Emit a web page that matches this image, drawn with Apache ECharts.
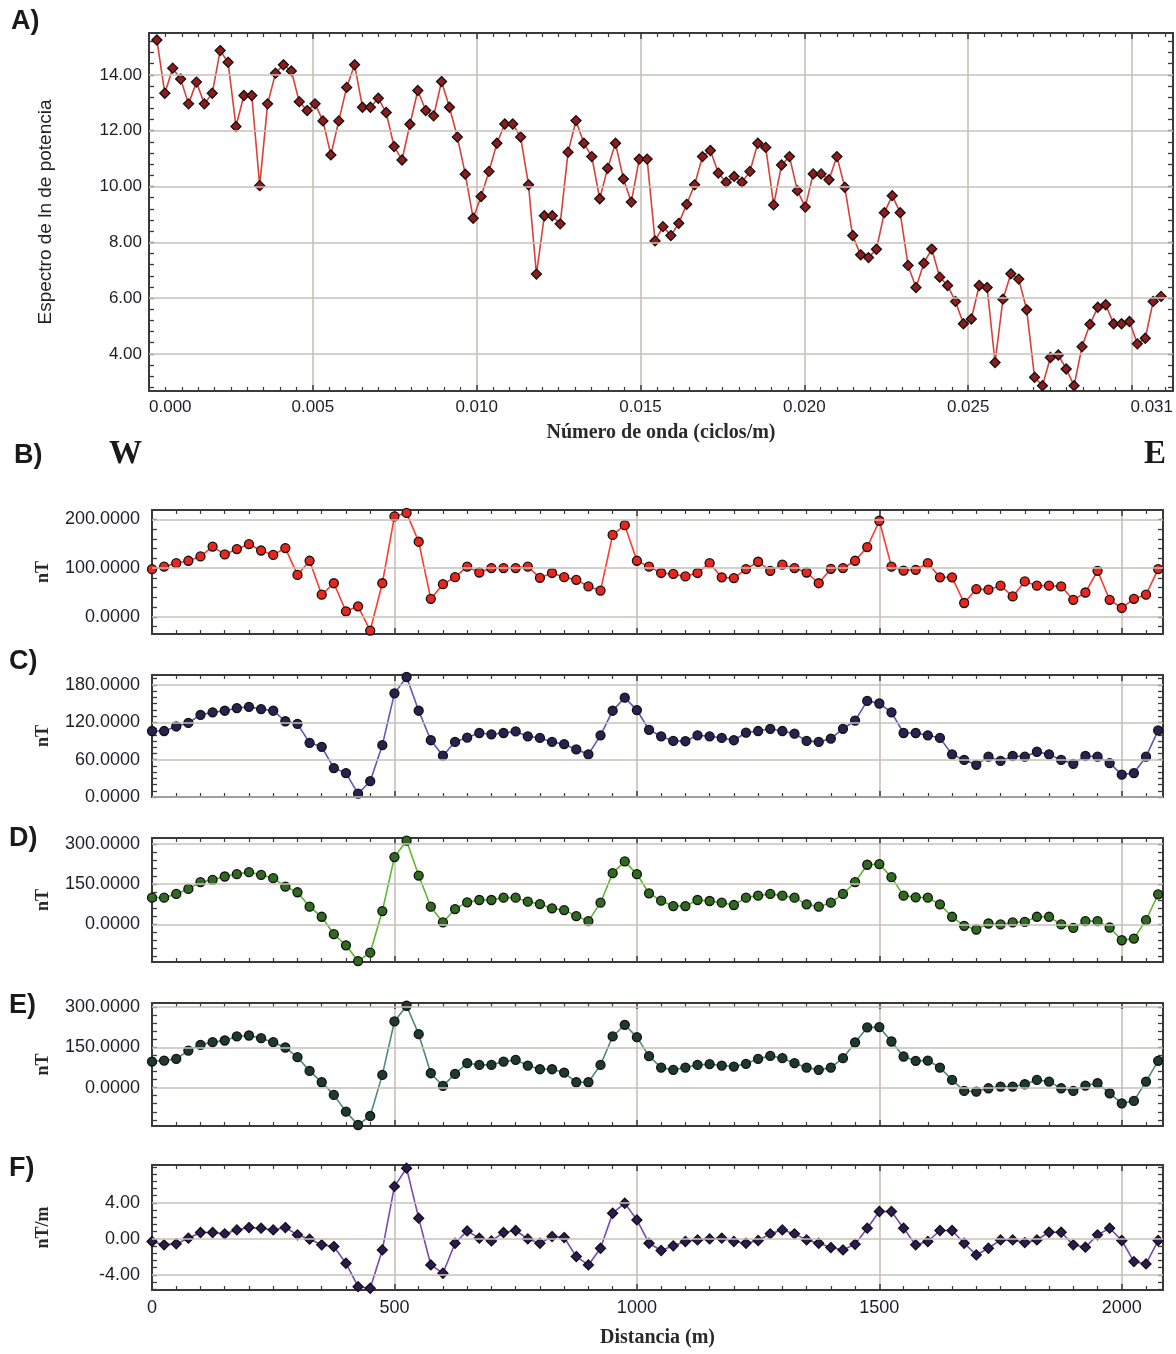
<!DOCTYPE html>
<html><head><meta charset="utf-8">
<script src="https://cdn.jsdelivr.net/npm/echarts@6/dist/echarts.min.js"></script>
<style>html,body{margin:0;padding:0;background:#fff}#c{width:1176px;height:1354px}</style>
</head><body><div id="c"></div>
<script>
// ---------- DATA ----------
// Panel A: power spectrum (ln), sample spacing in wavenumber (cycles/m)
const specStep = 0.0002413;
const spectrum = [
 15.25,13.34,14.24,13.85,12.96,13.74,12.96,13.34,14.87,14.45,
 12.15,13.26,13.26,10.03,12.96,14.06,14.36,14.14,13.04,12.72,
 12.96,12.35,11.13,12.35,13.55,14.36,12.84,12.84,13.16,12.65,
 11.43,10.95,12.23,13.44,12.72,12.53,13.76,12.84,11.77,10.44,
 8.86,9.64,
 10.54,11.55,12.24,12.24,11.77,10.06,6.86,8.95,8.95,8.66,
 11.23,12.36,11.55,11.07,9.56,10.65,11.55,10.27,9.44,10.98,
 10.98,8.05,8.56,8.24,8.68,9.36,10.06,11.07,11.29,10.48,
 10.15,10.36,10.15,10.54,11.55,11.40,9.34,10.77,11.07,9.85,
 9.26,10.45,
 10.45,10.24,11.07,9.97,8.24,7.55,7.45,7.75,9.06,9.67,
 9.06,7.17,6.38,7.25,7.76,6.75,6.45,5.88,5.08,5.25,
 6.45,6.38,3.69,5.96,6.87,6.68,5.58,3.16,2.86,3.87,
 3.96,3.46,2.86,4.26,5.06,5.67,5.76,5.08,5.08,5.16,
 4.36,4.56,5.88,6.06
];
const specYTicks = [4, 6, 8, 10, 12, 14];
const specXLabels = [0, 0.005, 0.010, 0.015, 0.020, 0.025, 0.03125];

// Panels B-F: profile W-E, station spacing (m)
const stationStep = 25;
const fieldB = [97.8,103,110,115,124,144,128,139,149,136,127,141,86,115,45.5,69,11.5,21.7,-28,69,
 206,213,154,37,67,81.5,103,91,100,100,100,103,80,90,81.5,76,62.5,54,168,188,
 115,103,90,88,83,90,110,81,79.5,98,113,94.5,107,100,91,69,98.6,100,115,143,
 197,103,95,96.5,110,81,81,28.5,57,55.7,64,42,72.7,64,64,62.5,35,50,94.5,35,
 18.3,37,45.5,98];
const fieldC = [106,106,113.3,119,132,136,138.6,142.8,144.9,141.2,138.6,121.7,117.5,87,80.6,46.4,38.5,5.3,25.4,83.3,
 166.5,192.8,138.6,91.2,66.4,88.5,95.4,102.8,100.7,102.8,105.4,97.5,94.9,88.5,84.9,76.4,68.5,99.1,138.6,159.6,
 139.6,108,97.5,90.1,89.6,99.1,97.5,94.9,91.2,103.3,106,109.6,106,101.7,90.1,88.5,93.8,109.6,122.8,154.4,
 150.2,136,102.8,102.8,99.1,94.9,68.5,59.6,51.7,64.8,58,65.9,64.8,72.7,68.5,59.6,53.3,65.9,64.8,54.3,
 35.9,38.5,64.8,107];
const fieldD = [99.8,99.8,113.5,132.3,157.3,166,178.5,187.3,194.8,184.8,172.3,141,119.8,66,28.5,-36.5,-77.7,-136.5,-105.2,49.8,
 251,312,182,66,7.3,57.3,82.3,91,91,99.8,99.8,84.8,76,59.8,53.5,31,12.3,81,191,234.8,
 187.3,116,88.5,68.5,68.5,91,87.3,81,72.3,99.8,107.3,113.5,107.3,99.8,74.8,66,81,113.5,157.3,222.3,
 224.8,176,107.3,101,99.8,74.8,28.5,-5.2,-19,3.5,0,7.3,9.8,28.5,28.5,0,-12.7,12.3,12.3,-11.5,
 -59,-52.7,16,112.3];
const fieldE = [97,100.8,107,138,159.3,169.2,175.4,190.4,194,184.1,169.2,149.3,113.2,62.2,19.9,-27.3,-89.5,-139.3,-105.7,47.3,
 246.3,304.8,199,53.5,6.2,51,90.8,84.6,84.6,97,103.3,82.1,68.4,68.4,56,19.9,19.9,84.6,190.4,233.9,
 187.9,117,74.7,66,74.7,84.6,87.1,82.1,78.4,88.4,107,118.2,109.5,90.8,74.7,66,74.7,109.5,168,224,
 225.2,171.7,115.7,99.5,100.8,74.7,28.6,-12.4,-14.9,-2.5,3.8,3.8,12.5,28.6,22.4,-2.5,-12.4,7.5,16.2,-21.1,
 -58.4,-49.7,22.4,99.5];
const gradF = [-0.29,-0.66,-0.55,0.08,0.71,0.71,0.56,1.0,1.26,1.19,1.0,1.26,0.45,-0.03,-0.66,-0.85,-2.7,-5.3,-5.48,-1.22,
 5.82,7.85,2.3,-2.89,-3.81,-0.48,0.89,0.08,-0.22,0.71,0.93,0.0,-0.48,0.26,0.15,-1.96,-2.89,-1.04,2.85,3.96,
 2.11,-0.48,-1.29,-0.77,-0.29,-0.11,0.0,0.08,-0.29,-0.48,-0.18,0.56,1.0,0.56,-0.11,-0.48,-0.96,-1.22,-0.59,1.19,
 3.04,3.04,1.19,-0.66,-0.29,0.93,0.93,-0.48,-1.78,-1.04,-0.11,-0.11,-0.41,-0.11,0.74,0.74,-0.66,-0.92,0.45,1.19,
 -0.18,-2.52,-2.78,-0.18];
const ticksB = [0, 100, 200];
const ticksC = [0, 60, 120, 180];
const ticksD = [0, 150, 300];
const ticksE = [0, 150, 300];
const ticksF = [-4, 0, 4];
const distLabels = [0, 500, 1000, 1500, 2000];

// ---------- STYLE / LAYOUT ----------
const GRID_COLOR = '#c9c0b8';
const BOX_COLOR = '#3a3a3a';
const LABEL_COLOR = '#1d1d2b';
const SERIF = '"Liberation Serif","Times New Roman",serif';
const SANS = '"Liberation Sans",Arial,sans-serif';

function within(min, max, step) {
  const out = [];
  for (let v = Math.ceil(min / step - 1e-9) * step; v <= max + 1e-9; v += step) out.push(+v.toFixed(6));
  return out;
}

const panels = [
  {key:'A', data: spectrum.map((v,i)=>[(i+1)*specStep, v]), left:149, top:33, width:1025, height:358,
   ymin:2.67, ymax:15.5, yt:specYTicks, ystep:0.4, yfmt:v=>v.toFixed(2),
   xmin:0, xmax:0.03125, xint:0.005, xlabels:specXLabels, xfmt:v=>v.toFixed(3), xname:'Número de onda (ciclos/m)',
   yname:'Espectro de ln de potencia', ynameFont:{fontFamily:SANS,fontSize:19,fontWeight:'normal',color:'#222'}, ynameGap:94,
   line:'#d9403a', fill:'#8e1c1c', symbol:'diamond', size:10},
  {key:'B', data: fieldB.map((v,i)=>[i*stationStep, v]), left:152, top:510, width:1011, height:124,
   ymin:-35, ymax:219, yt:ticksB, ystep:20, yfmt:v=>v.toFixed(4),
   line:'#ff3a2e', fill:'#e8261e', symbol:'circle', size:9, yname:'nT'},
  {key:'C', data: fieldC.map((v,i)=>[i*stationStep, v]), left:152, top:675, width:1011, height:122,
   ymin:0, ymax:196, yt:ticksC, ystep:10, yfmt:v=>v.toFixed(4),
   line:'#5a58b8', fill:'#27224f', symbol:'circle', size:9, yname:'nT'},
  {key:'D', data: fieldD.map((v,i)=>[i*stationStep, v]), left:152, top:838, width:1011, height:124,
   ymin:-140, ymax:322, yt:ticksD, ystep:30, yfmt:v=>v.toFixed(4),
   line:'#5cb82e', fill:'#2f6a20', symbol:'circle', size:9, yname:'nT'},
  {key:'E', data: fieldE.map((v,i)=>[i*stationStep, v]), left:152, top:1003, width:1011, height:123,
   ymin:-143, ymax:315, yt:ticksE, ystep:30, yfmt:v=>v.toFixed(4),
   line:'#4d8a78', fill:'#1e3a30', symbol:'circle', size:9, yname:'nT'},
  {key:'F', data: gradF.map((v,i)=>[i*stationStep, v]), left:152, top:1165, width:1011, height:125,
   ymin:-5.67, ymax:8.2, yt:ticksF, ystep:0.8, yfmt:v=>v.toFixed(2),
   line:'#7a48b0', fill:'#2c1a52', symbol:'diamond', size:10, yname:'nT/m',
   xlabels:distLabels, xfmt:v=>String(v), xname:'Distancia (m)'}
];

const grid=[], xAxis=[], yAxis=[], series=[];
panels.forEach((p, gi) => {
  grid.push({left:p.left, top:p.top, width:p.width, height:p.height, containLabel:false});
  const isA = p.key === 'A';
  const xmin = isA ? p.xmin : 0, xmax = isA ? p.xmax : 2085, xint = isA ? p.xint : 500;
  const baseX = {
    type:'value', gridIndex:gi, min:xmin, max:xmax, interval:xint,
    axisLine:{show:true, onZero:false, lineStyle:{color:BOX_COLOR, width:2}},
    axisTick:{show:true, inside:true, length:6, lineStyle:{color:BOX_COLOR, width:1.5}},
    minorTick:{show:true, splitNumber:10, length:4, lineStyle:{color:BOX_COLOR, width:1.2}},
    splitLine:{show:false}
  };
  const xLab = {show:true, customValues:p.xlabels, formatter:p.xfmt, color:LABEL_COLOR,
      fontFamily:SANS, fontSize:isA?17:18, margin:isA?8:9};
  if (isA) { xLab.alignMinLabel = 'left'; xLab.alignMaxLabel = 'right'; }
  xAxis.push(Object.assign({}, baseX, {
    position:'bottom',
    splitLine:{show:true, lineStyle:{color:GRID_COLOR, width:1.6}},
    axisLabel: p.xlabels ? xLab : {show:false},
    name: p.xname || '', nameLocation:'middle', nameGap: isA ? 32 : 38,
    nameTextStyle:{fontFamily:SERIF, fontWeight:'bold', fontSize:20, color:'#2a2a2a'}
  }));
  xAxis.push(Object.assign({}, baseX, {position:'top', axisLabel:{show:false}}));
  const yticks = within(p.ymin, p.ymax, p.ystep);
  const baseY = {
    type:'value', gridIndex:gi, min:p.ymin, max:p.ymax,
    axisLine:{show:true, onZero:false, lineStyle:{color:BOX_COLOR, width:2}},
    axisTick:{show:true, inside:true, length:5, customValues:yticks, lineStyle:{color:BOX_COLOR, width:1.3}},
    splitLine:{show:false}
  };
  yAxis.push(Object.assign({}, baseY, {
    position:'left',
    axisLabel:{show:true, customValues:p.yt, formatter:p.yfmt, color:LABEL_COLOR, fontFamily:SANS,
      fontSize: isA ? 17 : 18, margin: isA ? 7 : 12},
    name:p.yname, nameLocation:'middle', nameRotate:90, nameGap: p.ynameGap || 100,
    nameTextStyle: p.ynameFont || {fontFamily:SERIF, fontWeight:'bold', fontSize:18, color:'#2a2a2a'}
  }));
  yAxis.push(Object.assign({}, baseY, {position:'right', axisLabel:{show:false}}));
  // horizontal grid lines at the labelled values
  series.push({
    type:'line', xAxisIndex:2*gi, yAxisIndex:2*gi, data:[], z:1, silent:true,
    markLine:{silent:true, symbol:'none', animation:false, label:{show:false},
      lineStyle:{color:GRID_COLOR, width:1.6, type:'solid'},
      data:p.yt.map(v=>({yAxis:v}))}
  });
  series.push({
    type:'line', xAxisIndex:2*gi, yAxisIndex:2*gi, data:p.data, z:3,
    symbol:p.symbol, symbolSize:p.size, showSymbol:true,
    lineStyle:{color:p.line, width:1.6},
    itemStyle:{color:p.fill, borderColor:'#111', borderWidth:1.3},
    animation:false
  });
});

const txt = (text, left, top, size, family) => ({type:'text', left, top, z:100,
  style:{text, fontSize:size, fontWeight:'bold', fontFamily:family, fill:'#1a1a1a'}});

const chart = echarts.init(document.getElementById('c'), null, {renderer:'canvas'});
chart.setOption({
  backgroundColor:'#ffffff',
  animation:false,
  grid, xAxis, yAxis, series,
  graphic:[
    txt('A)', 11, 8, 27, SANS),
    txt('B)', 14, 442, 27, SANS),
    txt('W', 109, 438, 33, SERIF),
    txt('E', 1144, 438, 33, SERIF),
    txt('C)', 9, 648, 27, SANS),
    txt('D)', 9, 825, 27, SANS),
    txt('E)', 9, 992, 27, SANS),
    txt('F)', 9, 1155, 27, SANS)
  ]
});
</script>
</body></html>
